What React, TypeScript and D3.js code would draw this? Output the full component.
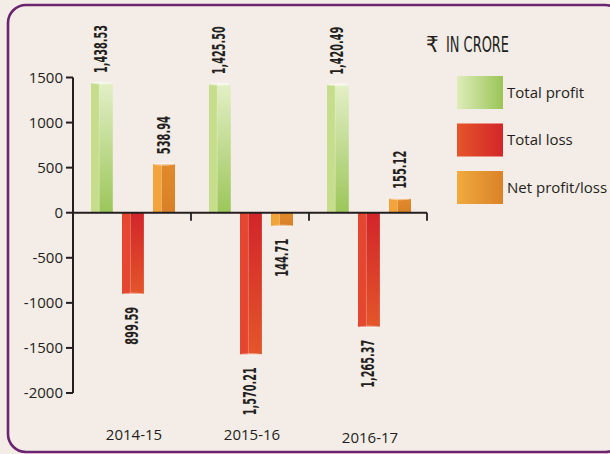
import React from 'react';
import * as d3 from 'd3';

const categories = ['2014-15', '2015-16', '2016-17'];
const seriesNames = ['Total profit', 'Total loss', 'Net profit/loss'];
const totalProfit = [1438.53, 1425.5, 1420.49];
const totalLoss = [-899.59, -1570.21, -1265.37];
const netProfitLoss = [538.94, -144.71, 155.12];
const yTicks = [1500, 1000, 500, 0, -500, -1000, -1500, -2000];
const unitLabel = 'IN CRORE';

const W = 610;
const H = 454;

const palettes = [
  { left: '#c6dd8b', top: '#e3efc6', bottom: '#9cc65a', legA: '#deecbb', legB: '#9bc556' },
  { left: '#e4462f', top: '#d2252a', bottom: '#e3562a', legA: '#e5552a', legB: '#d3262a' },
  { left: '#f2a43b', top: '#e08a2c', bottom: '#d98027', legA: '#f1aa3d', legB: '#da8228' },
];

const fmt = (v: number) => d3.format(',.2f')(Math.abs(v));
const labelLen = (s: string) => {
  let n = 0;
  for (const ch of s) n += /[0-9]/.test(ch) ? 7 : 3;
  return n;
};

export default function App() {
  const y = d3.scaleLinear().domain([-2000, 1500]).range([393, 77.5]);
  const x = d3.scaleBand<string>().domain(categories).range([73, 427]);
  const xs = d3.scaleBand<string>().domain(seriesNames).range([18, 102]).paddingInner(0.3);
  const values = [totalProfit, totalLoss, netProfitLoss];
  const y0 = y(0);
  const labelFont = "'DejaVu Sans Condensed', 'Liberation Sans Narrow', sans-serif";
  const textFont = "'Open Sans', 'Noto Sans', sans-serif";

  const bars: React.ReactNode[] = [];
  values.forEach((arr, si) => {
    arr.forEach((v, ci) => {
      const bx = (x(categories[ci]) as number) + (xs(seriesNames[si]) as number);
      const bw = xs.bandwidth();
      const top = Math.min(y(v), y0);
      const h = Math.abs(y(v) - y0);
      const lw = bw * 0.38;
      const cx = bx + bw / 2;
      bars.push(
        <g key={`b${si}-${ci}`}>
          <rect x={bx} y={top} width={bw} height={h} fill={`url(#g${si})`} />
          <rect x={bx} y={top} width={lw} height={h} fill={palettes[si].left} />
          <line x1={bx + lw} x2={bx + lw} y1={top} y2={top + h} stroke="#ffffff" strokeOpacity={0.35} strokeWidth={0.8} />
          {v > 0 ? (
            <ellipse cx={cx} cy={top} rx={bw / 2} ry={1.5} fill="#ffffff" fillOpacity={0.5} />
          ) : (
            <ellipse cx={cx} cy={top + h} rx={bw / 2} ry={1.2} fill="#ffffff" fillOpacity={0.4} />
          )}
        </g>
      );
      const s = fmt(v);
      const ly = v > 0 ? y(v) - 10 : y(v) + 13;
      bars.push(
        <text
          key={`l${si}-${ci}`}
          transform={`translate(${cx - 1},${ly}) rotate(-90)`}
          textAnchor={v > 0 ? 'start' : 'end'}
          dy="0.36em"
          fontFamily={labelFont}
          fontWeight="bold"
          fontSize={18}
          textLength={labelLen(s)}
          lengthAdjust="spacingAndGlyphs"
          fill="#231f20"
        >
          {s}
        </text>
      );
    });
  });

  return (
    <svg width={W} height={H} style={{ position: 'absolute', left: 0, top: 0, background: '#f4ece6' }}>
      <defs>
        {palettes.map((p, i) => (
          <linearGradient key={`g${i}`} id={`g${i}`} x1="0" y1="0" x2="0" y2="1">
            <stop offset="0%" stopColor={p.top} />
            <stop offset="100%" stopColor={p.bottom} />
          </linearGradient>
        ))}
        {palettes.map((p, i) => (
          <linearGradient key={`lg${i}`} id={`lg${i}`} x1="0" y1="0" x2="1" y2="0">
            <stop offset="0%" stopColor={p.legA} />
            <stop offset="100%" stopColor={p.legB} />
          </linearGradient>
        ))}
      </defs>
      <rect x={0} y={0} width={W} height={H} fill="#f4ece6" />
      <rect x={8} y={5} width={615} height={447} rx={18} ry={18} fill="none" stroke="#6b2570" strokeWidth={2.6} />

      {/* y axis */}
      <line x1={73} x2={73} y1={y(1500)} y2={y(-2000)} stroke="#231f20" strokeWidth={2} />
      {yTicks.map((t) => (
        <g key={`t${t}`}>
          <line x1={66} x2={73} y1={y(t)} y2={y(t)} stroke="#231f20" strokeWidth={2} />
          <text x={63} y={y(t)} dy="0.35em" textAnchor="end" fontFamily={textFont} fontSize={15} fill="#231f20">
            {t}
          </text>
        </g>
      ))}

      {bars}

      {/* zero line */}
      <line x1={73} x2={(x(categories[2]) as number) + x.bandwidth()} y1={y0} y2={y0} stroke="#231f20" strokeWidth={2} />
      {categories.map((c) => {
        const bx = (x(c) as number) + x.bandwidth();
        return <line key={`xt${c}`} x1={bx} x2={bx} y1={y0} y2={y0 + 8} stroke="#231f20" strokeWidth={1.8} />;
      })}
      {categories.map((c, i) => (
        <text
          key={`c${c}`}
          x={(x(c) as number) + x.bandwidth() / 2 + 2}
          y={440 + (i === 2 ? 3 : 0)}
          textAnchor="middle"
          fontFamily={textFont}
          fontSize={15}
          fill="#231f20"
        >
          {c}
        </text>
      ))}

      {/* legend */}
      <text x={426} y={52} fontFamily={labelFont} fontSize={22} fill="#231f20">
        <tspan>₹</tspan>
        <tspan x={446} textLength={63} lengthAdjust="spacingAndGlyphs">{unitLabel}</tspan>
      </text>
      {seriesNames.map((s, i) => (
        <g key={`lgd${s}`}>
          <rect x={457} y={76 + i * 47.5} width={46} height={33} fill={`url(#lg${i})`} />
          <text x={507} y={76 + i * 47.5 + 16.5} dy="0.35em" fontFamily={textFont} fontSize={15} fill="#231f20">
            {s}
          </text>
        </g>
      ))}
    </svg>
  );
}
